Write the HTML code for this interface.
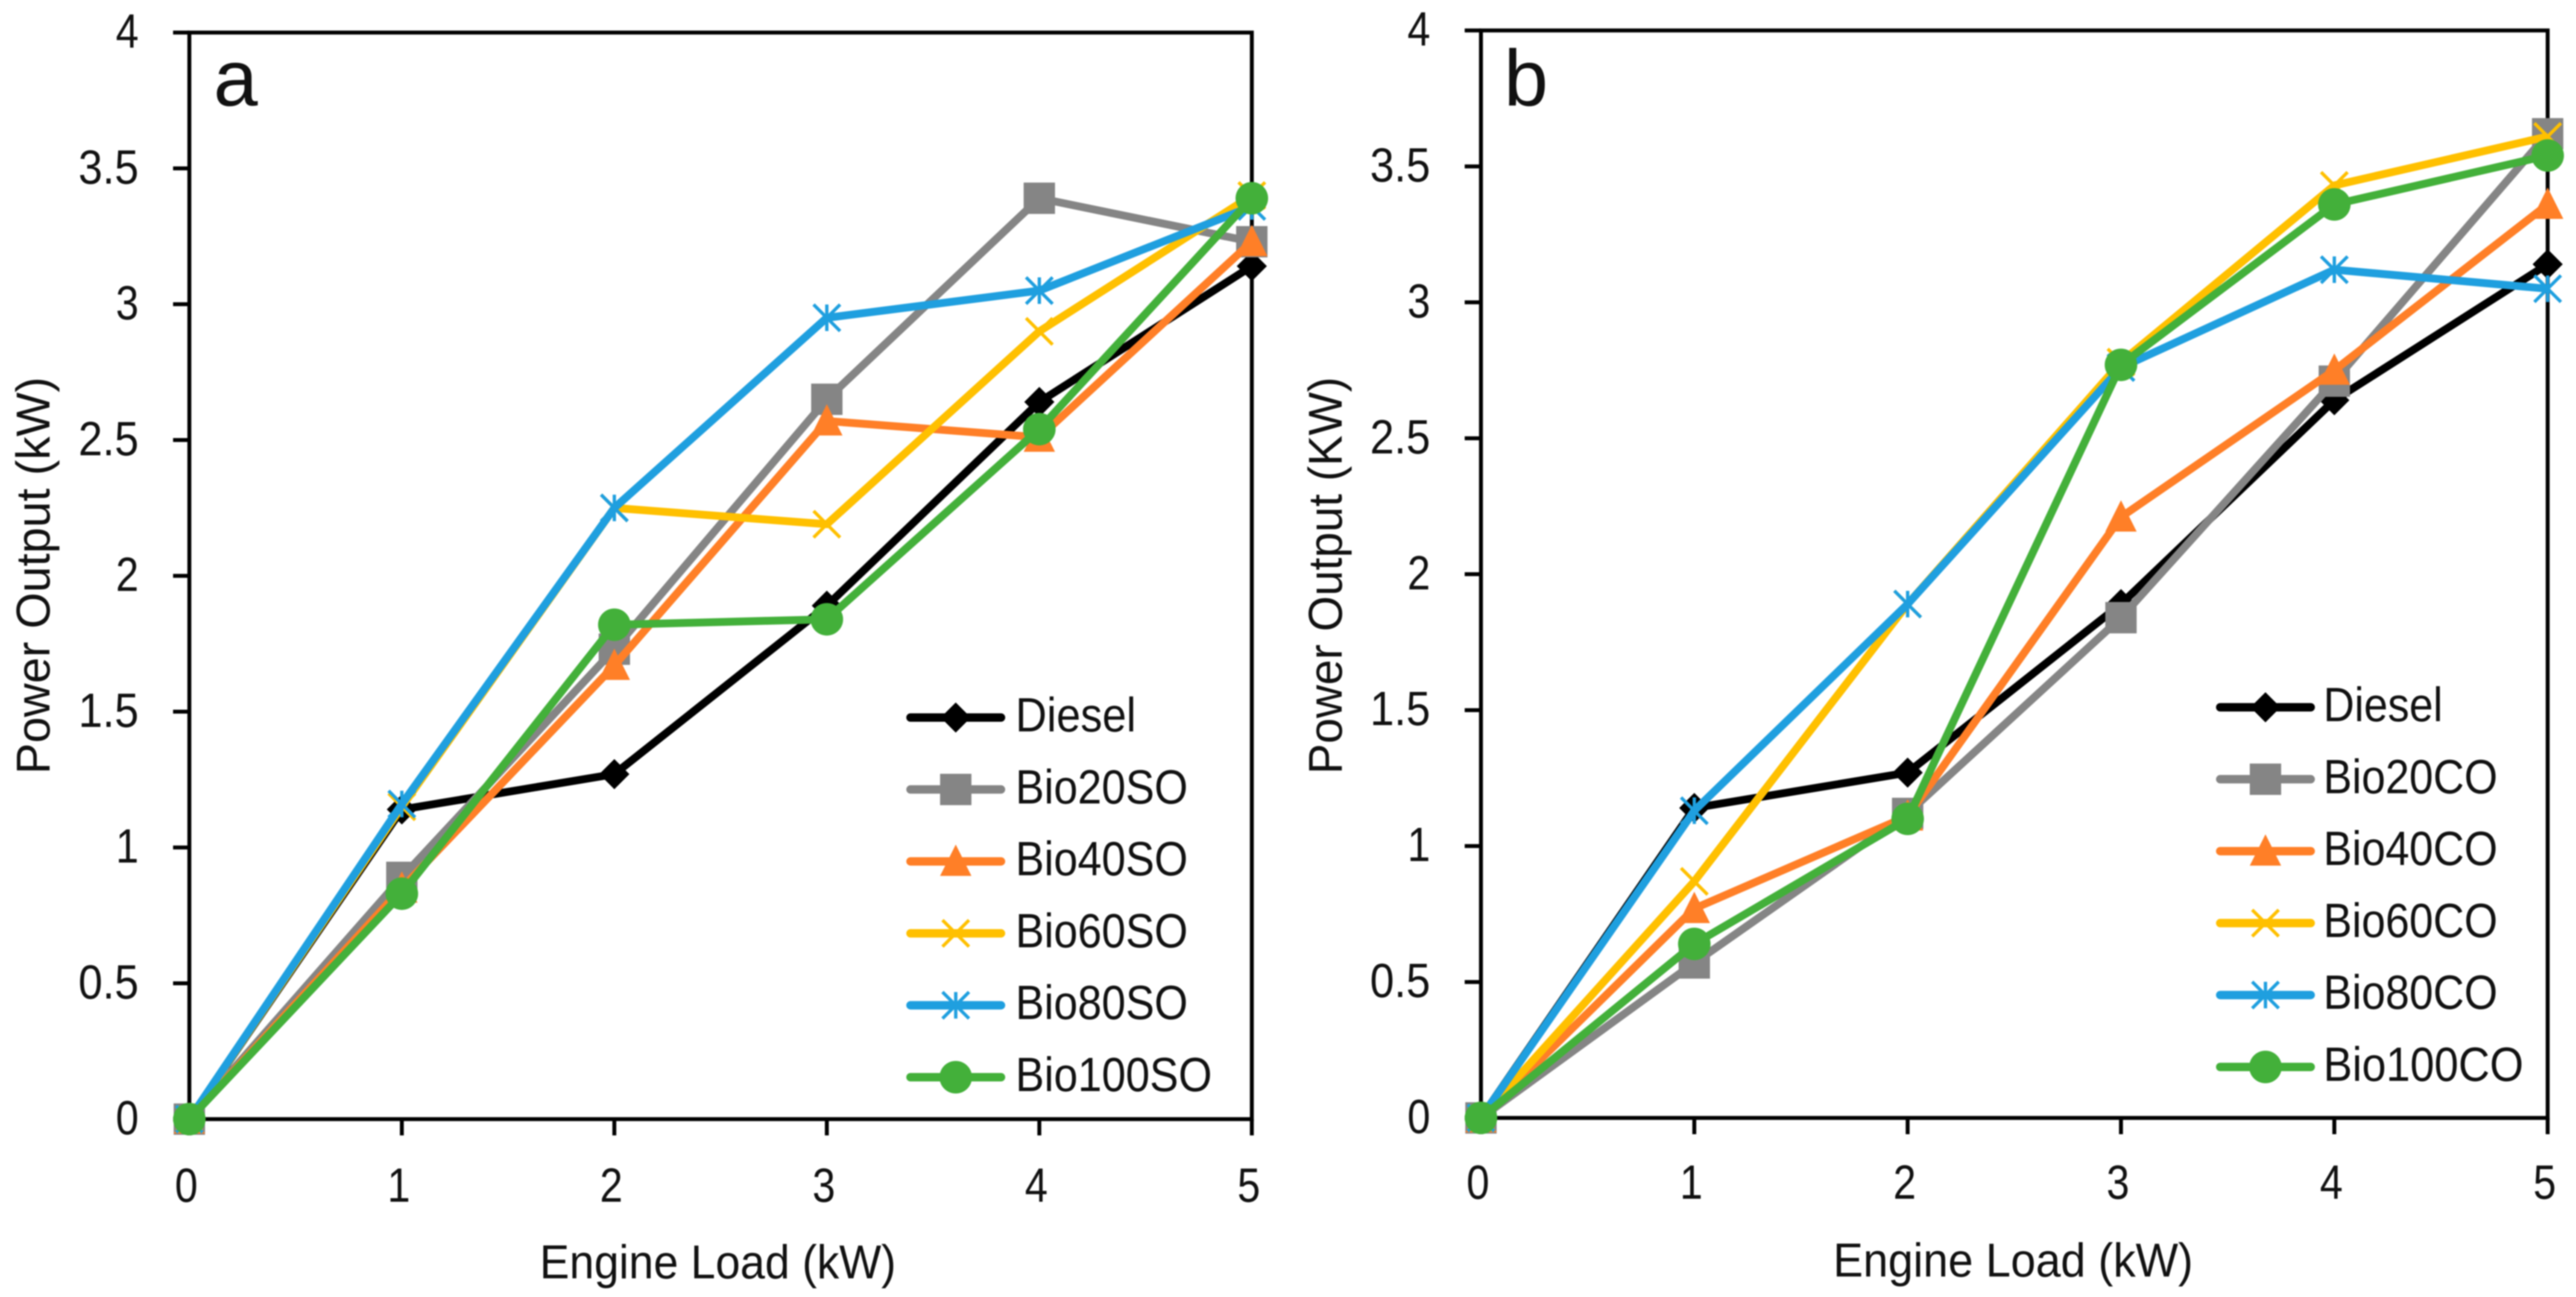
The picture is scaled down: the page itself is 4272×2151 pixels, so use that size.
<!DOCTYPE html>
<html lang="en">
<head>
<meta charset="utf-8">
<title>Power Output vs Engine Load</title>
<style>
html,body{margin:0;padding:0;background:#fff;}
svg{display:block;filter:blur(1.1px);}
text{font-family:"Liberation Sans",sans-serif;fill:#111;}
</style>
</head>
<body>
<svg id="chart" xmlns="http://www.w3.org/2000/svg" width="4272" height="2151" viewBox="0 0 4272 2151"></svg>
<script>
// ---- data ----
const engineLoad = [0, 1, 2, 3, 4, 5];
const yTicks = [0, 0.5, 1, 1.5, 2, 2.5, 3, 3.5, 4];
const xTickLabels = ['0', '1', '2', '3', '4', '5'];
const yTickLabels = ['0', '0.5', '1', '1.5', '2', '2.5', '3', '3.5', '4'];

const diesel = [0, 1.14, 1.27, 1.89, 2.64, 3.14];

const bio20SO = [0, 0.89, 1.73, 2.65, 3.39, 3.23];
const bio40SO = [0, 0.85, 1.67, 2.57, 2.51, 3.23];
const bio60SO = [0, 1.15, 2.25, 2.19, 2.90, 3.40];
const bio80SO = [0, 1.16, 2.25, 2.95, 3.05, 3.36];
const bio100SO = [0, 0.83, 1.82, 1.84, 2.54, 3.39];

const bio20CO = [0, 0.57, 1.12, 1.84, 2.71, 3.62];
const bio40CO = [0, 0.77, 1.11, 2.21, 2.75, 3.36];
const bio60CO = [0, 0.87, 1.89, 2.78, 3.43, 3.61];
const bio80CO = [0, 1.13, 1.89, 2.76, 3.12, 3.05];
const bio100CO = [0, 0.64, 1.10, 2.77, 3.36, 3.54];

const namesSO = ['Diesel', 'Bio20SO', 'Bio40SO', 'Bio60SO', 'Bio80SO', 'Bio100SO'];
const namesCO = ['Diesel', 'Bio20CO', 'Bio40CO', 'Bio60CO', 'Bio80CO', 'Bio100CO'];

const colors = ['#000000', '#858585', '#FF7F27', '#FFC000', '#1F9FDF', '#43B03A'];
const markers = ['diamond', 'square', 'triangle', 'x', 'star', 'circle'];

// ---- drawing ----
const NS = 'http://www.w3.org/2000/svg';
const root = document.getElementById('chart');

function make(parent, tag, attrs) {
  const el = document.createElementNS(NS, tag);
  for (const k in attrs) el.setAttribute(k, attrs[k]);
  parent.appendChild(el);
  return el;
}

function slug(s) { return s.toLowerCase(); }

function drawMarker(parent, kind, cx, cy, color, label) {
  const g = make(parent, 'g', {});
  
  
  const r = 26;
  if (kind === 'square') {
    make(g, 'rect', {x: cx - r, y: cy - r, width: 2 * r, height: 2 * r, fill: color});
  } else if (kind === 'circle') {
    make(g, 'circle', {cx: cx, cy: cy, r: r + 1, fill: color});
  } else if (kind === 'triangle') {
    make(g, 'polygon', {points: [cx, cy - 28, cx + 26, cy + 24, cx - 26, cy + 24].join(','), fill: color});
  } else if (kind === 'diamond') {
    make(g, 'polygon', {points: [cx, cy - 25, cx + 25, cy, cx, cy + 25, cx - 25, cy].join(','), fill: color});
  } else {
    const a = 22;
    make(g, 'line', {x1: cx - a, y1: cy - a, x2: cx + a, y2: cy + a, stroke: color, 'stroke-width': 5.5});
    make(g, 'line', {x1: cx - a, y1: cy + a, x2: cx + a, y2: cy - a, stroke: color, 'stroke-width': 5.5});
    if (kind === 'star') {
      make(g, 'line', {x1: cx, y1: cy - a, x2: cx, y2: cy + a, stroke: color, 'stroke-width': 5.5});
    }
  }
}

function drawPanel(p) {
  const xScale = v => p.x0 + (v - 0) * (p.x5 - p.x0) / 5;
  const yScale = v => p.y0 - (v - 0) * (p.y0 - p.y4) / 4;

  const panel = make(root, 'g', {});
  
  

  const frame = make(panel, 'rect', {x: p.x0, y: p.y4, width: p.x5 - p.x0, height: p.y0 - p.y4, fill: 'none', stroke: '#000', 'stroke-width': 6.5});
  
  

  yTicks.forEach((t, i) => {
    const y = yScale(t);
    const tick = make(panel, 'line', {x1: p.x0 - 27, y1: y, x2: p.x0, y2: y, stroke: '#000', 'stroke-width': 6.5});
    
    
    const lab = make(panel, 'text', {x: p.yLabelX, y: y + 25, 'font-size': 80, 'text-anchor': 'end', textLength: yTickLabels[i].length === 1 ? 38 : 100, lengthAdjust: 'spacingAndGlyphs'});
    lab.textContent = yTickLabels[i];
    
    
  });

  engineLoad.forEach((t, i) => {
    const x = xScale(t);
    const tick = make(panel, 'line', {x1: x, y1: p.y0, x2: x, y2: p.y0 + 27, stroke: '#000', 'stroke-width': 6.5});
    
    
    const lab = make(panel, 'text', {x: x - 5, y: p.xLabelY, 'font-size': 80, 'text-anchor': 'middle', textLength: 38, lengthAdjust: 'spacingAndGlyphs'});
    lab.textContent = xTickLabels[i];
    
    
  });

  const xTitle = make(panel, 'text', {x: p.xTitleX, y: p.xTitleY, 'font-size': 79, textLength: p.xTitleLen, lengthAdjust: 'spacingAndGlyphs'});
  xTitle.textContent = 'Engine Load (kW)';
  
  

  const yTitle = make(panel, 'text', {transform: 'translate(' + p.yTitleX + ',' + p.yTitleY + ') rotate(-90)', 'font-size': 79, textLength: p.yTitleLen, lengthAdjust: 'spacingAndGlyphs'});
  yTitle.textContent = p.yTitle;
  
  

  const letter = make(panel, 'text', {x: p.letterX, y: 175, 'font-size': 132});
  letter.textContent = p.letter;
  
  

  p.series.forEach((vals, s) => {
    const name = p.names[s];
    const group = make(panel, 'g', {});
    
    
    const pts = engineLoad.map((x, i) => xScale(x) + ',' + yScale(vals[i])).join(' ');
    const line = make(group, 'polyline', {points: pts, fill: 'none', stroke: colors[s], 'stroke-width': 13, 'stroke-linejoin': 'round'});
    
    
    engineLoad.forEach((x, i) => {
      drawMarker(group, markers[s], xScale(x), yScale(vals[i]), colors[s], slug(name));
    });
  });

  const legend = make(panel, 'g', {});
  
  
  p.names.forEach((name, s) => {
    const y = p.legendY + s * 119.3;
    const entry = make(legend, 'g', {});
    
    
    make(entry, 'line', {x1: p.legendX1, y1: y, x2: p.legendX2, y2: y, stroke: colors[s], 'stroke-width': 14, 'stroke-linecap': 'round'});
    drawMarker(entry, markers[s], (p.legendX1 + p.legendX2) / 2, y, colors[s], 'legend-' + slug(name));
    const t = make(entry, 'text', {x: p.legendTextX, y: y + 23, 'font-size': 80, textLength: p.legendLens[s], lengthAdjust: 'spacingAndGlyphs'});
    t.textContent = name;
    
    
  });
}

drawPanel({
  letter: 'a', letterX: 354,
  x0: 314, x5: 2076, y0: 1856, y4: 54,
  yLabelX: 230, xLabelY: 1993,
  xTitleX: 895, xTitleY: 2120, xTitleLen: 591,
  yTitle: 'Power Output (kW)', yTitleX: 82, yTitleY: 1284, yTitleLen: 659,
  series: [diesel, bio20SO, bio40SO, bio60SO, bio80SO, bio100SO],
  names: namesSO,
  legendX1: 1510, legendX2: 1660, legendTextX: 1684, legendY: 1190,
  legendLens: [200, 286, 286, 286, 286, 326]
});

drawPanel({
  letter: 'b', letterX: 2494,
  x0: 2456, x5: 4225, y0: 1854, y4: 50.5,
  yLabelX: 2372, xLabelY: 1988,
  xTitleX: 3040, xTitleY: 2117, xTitleLen: 597,
  yTitle: 'Power Output (KW)', yTitleX: 2225, yTitleY: 1284, yTitleLen: 659,
  series: [diesel, bio20CO, bio40CO, bio60CO, bio80CO, bio100CO],
  names: namesCO,
  legendX1: 3682, legendX2: 3832, legendTextX: 3853, legendY: 1173,
  legendLens: [198, 289, 289, 289, 289, 332]
});
</script>
</body>
</html>
